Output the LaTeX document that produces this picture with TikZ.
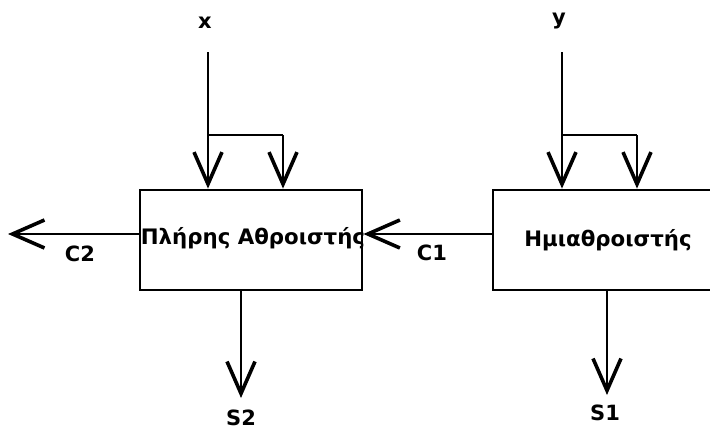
\documentclass[tikz,border=0pt]{standalone}
\usepackage{fontspec}
\setmainfont{DejaVu Sans}
\usetikzlibrary{arrows.meta}
\begin{document}
\begin{tikzpicture}[x=1pt,y=-1pt,
  wire/.style={line width=2.6pt},
  arr/.style={wire,-{Straight Barb[length=32pt,width=28pt,line width=3.6pt]}},
  blk/.style={draw,line width=2.8pt,rectangle,minimum width=#1,minimum height=100pt,inner sep=0pt},
  lbl/.style={font=\bfseries\fontsize{21}{21}\selectfont},
  boxtxt/.style={font=\bfseries\fontsize{21.3}{21.3}\selectfont}
]
\useasboundingbox (0,0) rectangle (710,434);
\fill[white] (0,0) rectangle (710,434);
% blocks
\node[blk=222pt] (full) at (251,240) {};
\node[blk=230pt] (half) at (608,240) {};
\node[boxtxt] (fulltxt) at (253,238) {Πλήρης Αθροιστής};
\node[boxtxt] (halftxt) at (608,240) {Ημιαθροιστής};
% inputs
\node[lbl] (xl) at (205,23) {x};
\node[lbl] (yl) at (559,21) {y};
\coordinate (xs) at (208,52);
\coordinate (ys) at (562,52);
\coordinate (xb) at (208,135);
\coordinate (yb) at (562,135);
\coordinate (xb2) at (283,135);
\coordinate (yb2) at (637,135);
\draw[arr] (xs) -- (xs |- full.north);
\draw[wire] (xb) -- (xb2);
\draw[arr] (xb2) -- (xb2 |- full.north);
\draw[arr] (ys) -- (ys |- half.north);
\draw[wire] (yb) -- (yb2);
\draw[arr] (yb2) -- (yb2 |- half.north);
% carries
\coordinate (c2end) at (8,234);
\draw[arr] (half.west |- 0,234) -- (full.east |- 0,234);
\draw[arr] (full.west |- 0,234) -- (c2end);
\node[lbl] (c1) at (432,253) {C1};
\node[lbl] (c2) at (80,254) {C2};
% sums
\coordinate (s2end) at (241,398);
\coordinate (s1end) at (607,395);
\draw[arr] (s2end |- full.south) -- (s2end);
\draw[arr] (s1end |- half.south) -- (s1end);
\node[lbl] (s2) at (241,418) {S2};
\node[lbl] (s1) at (605,413) {S1};
\end{tikzpicture}
\end{document}
